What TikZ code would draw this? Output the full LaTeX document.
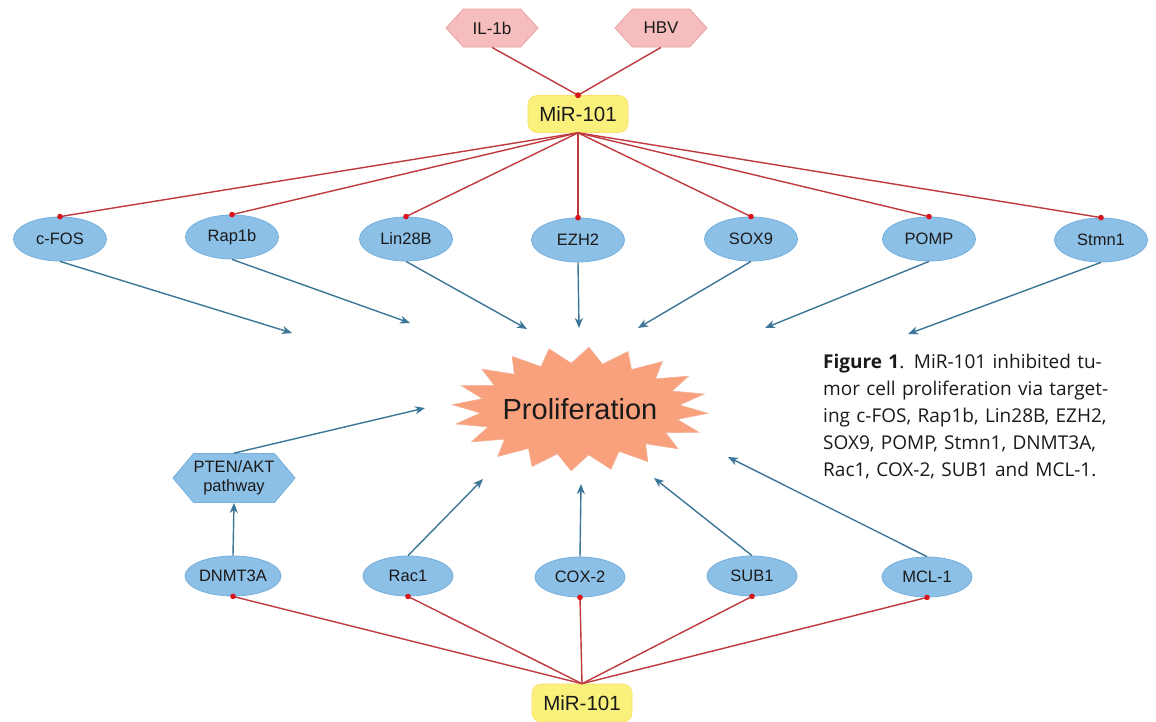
\documentclass[tikz,border=0pt]{standalone}
\usepackage{fontspec}
\setmainfont{Liberation Sans}
\newfontfamily\capfont{Open Sans}
\usetikzlibrary{shapes.geometric,shapes.symbols,arrows.meta}
\definecolor{ellfill}{HTML}{8DC0E6}
\definecolor{elldraw}{HTML}{74AEDC}
\definecolor{redline}{HTML}{C0393E}
\definecolor{redtip}{HTML}{D9141B}
\definecolor{bluearrow}{HTML}{3C7698}
\definecolor{pinkfill}{HTML}{F5BDBD}
\definecolor{pinkdraw}{HTML}{E9A3A3}
\definecolor{yellowfill}{HTML}{FAF07C}
\definecolor{starfill}{HTML}{F9A07C}
\definecolor{stardraw}{HTML}{F4B398}
\definecolor{txt}{HTML}{1A1A1A}
\tikzset{
  gene/.style={ellipse, fill=ellfill, draw=elldraw, line width=0.8pt, minimum width=93pt, minimum height=44pt, inner sep=0pt, text=txt, font=\fontsize{16.5}{18}\selectfont},
  geneb/.style={gene, minimum width=90pt, minimum height=40pt},
  mir/.style={rounded corners=9pt, rectangle, fill=yellowfill, draw=yellowfill!85!orange, line width=0.6pt, minimum width=100pt, minimum height=37pt, inner sep=0pt, text=txt, font=\fontsize{20.5}{22}\selectfont},
  hexpink/.style={signal, signal to=east and west, signal pointer angle=95, fill=pinkfill, draw=pinkdraw, line width=0.8pt, minimum width=92pt, minimum height=38pt, inner sep=0pt, text=txt, font=\fontsize{17}{19}\selectfont},
  hexblue/.style={signal, signal to=east and west, signal pointer angle=100, fill=ellfill, draw=elldraw, line width=0.8pt, minimum width=122pt, minimum height=49pt, inner sep=0pt, text=txt, align=center, font=\fontsize{16.5}{19}\selectfont},
  inhib/.style={draw=redline, line width=1.4pt, -{Circle[length=5.5pt, color=redtip]}, shorten >=-2.75pt},
  act/.style={draw=bluearrow, line width=1.4pt, -{Stealth[length=10pt, width=8pt, inset=3pt]}}
}
\begin{document}
\begin{tikzpicture}[x=1pt,y=-1pt]
\useasboundingbox (0,0) rectangle (1156,721);
\fill[white] (0,0) rectangle (1156,721);

% star
\fill[starfill, draw=stardraw, line width=0.6pt]
  plot[samples=41, domain=0:40, variable=\k]
  ({580 + (mod(\k,2)==0 ? 128 : 100)*cos(\k*9+4)}, {409 + (mod(\k,2)==0 ? 62 : 46)*sin(\k*9+4)}) -- cycle;
\node[text=txt, font=\fontsize{29}{32}\selectfont] (prolif) at (580,409) {Proliferation};

% top part
\node[hexpink] (il) at (492,28) {IL-1b};
\node[hexpink] (hbv) at (661,28) {HBV};
\node[mir] (mirt) at (578,114) {MiR-101};

\node[gene] (cfos) at (60,239) {c-FOS};
\node[gene] (rap) at (232,237) {Rap1b};
\node[gene] (lin) at (406,239) {Lin28B};
\node[gene] (ezh) at (578,240) {EZH2};
\node[gene] (sox) at (751,239) {SOX9};
\node[gene] (pomp) at (929,239) {POMP};
\node[gene] (stmn) at (1101,240) {Stmn1};

\draw[inhib] (il.south) -- (mirt.north);
\draw[inhib] (hbv.south) -- (mirt.north);
\foreach \n in {cfos,rap,lin,ezh,sox,pomp,stmn}
  \draw[inhib] (mirt.south) -- (\n.north);

\coordinate (t1) at (292,333);
\coordinate (t2) at (410,323);
\coordinate (t3) at (527,329);
\coordinate (t4) at (579,328);
\coordinate (t5) at (638,328);
\coordinate (t6) at (765,328);
\coordinate (t7) at (908,334);
\draw[act] (cfos.south) -- (t1);
\draw[act] (rap.south) -- (t2);
\draw[act] (lin.south) -- (t3);
\draw[act] (ezh.south) -- (t4);
\draw[act] (sox.south) -- (t5);
\draw[act] (pomp.south) -- (t6);
\draw[act] (stmn.south) -- (t7);

% bottom part
\node[hexblue] (pten) at (234,478) {PTEN/AKT\\pathway};
\node[geneb] (dnmt) at (233,576) {DNMT3A};
\node[geneb] (rac) at (408,576) {Rac1};
\node[geneb] (cox) at (580,577) {COX-2};
\node[geneb] (sub) at (752,576) {SUB1};
\node[geneb] (mcl) at (927,577) {MCL-1};
\node[mir, minimum height=38pt] (mirb) at (582,703) {MiR-101};

\foreach \n in {dnmt,rac,cox,sub,mcl}
  \draw[inhib] (mirb.north) -- (\n.south);

\coordinate (b0) at (425,408);
\coordinate (b1) at (483,479);
\coordinate (b2) at (581,484);
\coordinate (b3) at (654,478);
\coordinate (b4) at (728,457);
\draw[act] (dnmt.north) -- (pten.south);
\draw[act] (pten.north) -- (b0);
\draw[act] (rac.north) -- (b1);
\draw[act] (cox.north) -- (b2);
\draw[act] (sub.north) -- (b3);
\draw[act] (mcl.north) -- (b4);

% caption
\node[anchor=north west, inner sep=0pt, text=txt, font=\capfont\fontsize{19}{27}\selectfont, align=left, text width=334pt] (cap) at (823,354) {%
\makebox[334pt][s]{\textbf{Figure 1}. MiR-101 inhibited tu-}\\
\makebox[334pt][s]{mor cell proliferation via target-}\\
\makebox[334pt][s]{ing c-FOS, Rap1b, Lin28B, EZH2,}\\
\makebox[334pt][s]{SOX9, POMP, Stmn1, DNMT3A,}\\
Rac1, COX-2, SUB1 and MCL-1.};
\end{tikzpicture}
\end{document}
